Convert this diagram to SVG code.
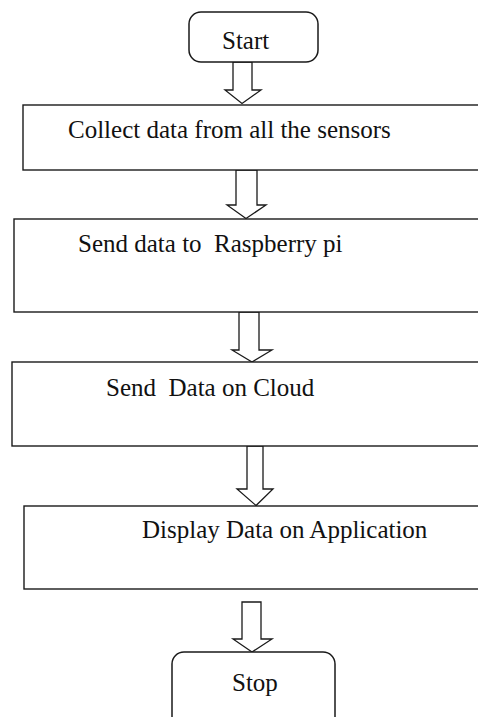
<svg xmlns="http://www.w3.org/2000/svg" width="478" height="717" viewBox="0 0 478 717">
<style>
.box{fill:#fff;stroke:#1a1a1a;stroke-width:1.4}
.term{fill:#fff;stroke:#1a1a1a;stroke-width:1.5}
.arrow{fill:#fff;stroke:#1a1a1a;stroke-width:1.3;stroke-linejoin:miter}
text{font-family:"Liberation Serif","Times New Roman",serif;font-size:25px;fill:#111;white-space:pre}
</style>
<rect width="478" height="717" fill="#fff"/>
<g id="connectors">
<polygon class="arrow" points="233,62 252,62 252,90 261,90 242,103.5 225,90 233,90"/>
<polygon class="arrow" points="236,170 257,170 257,205 266,205 246,218.5 227,205 236,205"/>
<polygon class="arrow" points="239,312 259,312 259,350 272,350 252,362 232,350 239,350"/>
<polygon class="arrow" points="247,446 263,446 263,489 273,489 256,505.5 237,489 247,489"/>
<polygon class="arrow" points="242,602 261,602 261,639 272,639 252,652 233,639 242,639"/>
</g>
<g id="start">
<rect class="term" x="189" y="12" width="129" height="50" rx="12"/>
<text x="222" y="49">Start</text>
</g>
<g id="collect">
<rect class="box" x="23" y="105" width="470" height="65"/>
<text x="68" y="138">Collect data from all the sensors</text>
</g>
<g id="send-pi">
<rect class="box" x="14" y="219" width="480" height="93"/>
<text x="78" y="252">Send data to  Raspberry pi</text>
</g>
<g id="send-cloud">
<rect class="box" x="12" y="362" width="482" height="84"/>
<text x="106" y="396">Send  Data on Cloud</text>
</g>
<g id="display">
<rect class="box" x="24" y="506" width="470" height="83"/>
<text x="142" y="538">Display Data on Application</text>
</g>
<g id="stop">
<rect class="term" x="172" y="652" width="163" height="80" rx="12"/>
<text x="232" y="691">Stop</text>
</g>
</svg>
